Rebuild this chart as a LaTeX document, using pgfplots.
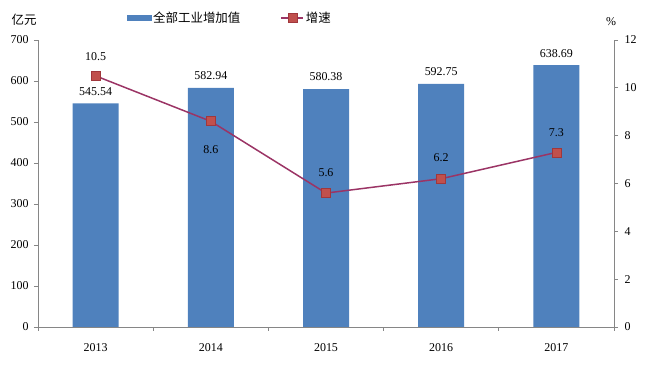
\documentclass[border=0pt]{standalone}
\usepackage{pgfplots}
\pgfplotsset{compat=1.18}
\usepackage{fontspec}
\setmainfont{Liberation Serif}
\newfontfamily\cjk{Noto Sans CJK SC}
\definecolor{barblue}{RGB}{79,129,189}
\definecolor{linec}{RGB}{155,52,101}
\definecolor{markf}{RGB}{192,80,77}
\definecolor{marke}{RGB}{160,55,60}
\definecolor{axgray}{RGB}{134,134,134}
\begin{document}
\begin{tikzpicture}
\useasboundingbox (0,0) rectangle (648bp,375bp);
\pgfplotsset{every axis/.append style={
  font=\fontsize{12}{14}\selectfont,
  /pgf/number format/assume math mode=true,
  scale only axis, width=576bp, height=287bp,
  at={(38bp,48bp)}, anchor=south west,
  xmin=-0.5, xmax=4.5,
  axis line style={axgray, line width=0.8pt},
  tick style={axgray, line width=0.8pt},
  tick align=outside,
  major tick length=4bp,
}}
\begin{axis}[
  ymin=0, ymax=700, ytick={0,100,...,700},
  axis y line*=left, axis x line*=bottom,
  xtick={-0.5,0.5,1.5,2.5,3.5,4.5}, xticklabels={},
  extra x ticks={0,1,2,3,4},
  extra x tick labels={2013,2014,2015,2016,2017},
  extra x tick style={major tick length=0pt, xticklabel style={yshift=-13bp}},
  yticklabel style={xshift=-2bp},
]
\addplot[ybar, bar width=46bp, fill=barblue, draw=none,
  nodes near coords, point meta=explicit symbolic,
  every node near coord/.append style={anchor=center, yshift=12bp, font=\fontsize{12}{14}\selectfont}]
  table[meta=l] {
x y l
0 545.54 545.54
1 582.94 582.94
2 580.38 580.38
3 592.75 592.75
4 638.69 638.69
};
\end{axis}
\begin{axis}[
  ymin=0, ymax=12, ytick={0,2,...,12},
  axis y line*=right, axis x line=none,
  yticklabel style={xshift=3bp},
  legend style={draw=none, fill=none, at={(0.333,1.077)}, anchor=center,
    legend columns=2, font=\cjk\fontsize{12.5}{14}\selectfont,
    /tikz/every even column/.append style={column sep=38bp}},
  legend image code/.code={},
]
\addlegendimage{legend image code/.code={\fill[barblue] (0bp,-2.5bp) rectangle (24bp,2.5bp);}}
\addlegendentry{全部工业增加值}
\addlegendimage{legend image code/.code={\draw[linec, line width=1.5pt] (0bp,0) -- (22bp,0); \draw[marke, fill=markf] (7bp,-4.5bp) rectangle (16bp,4.5bp);}}
\addlegendentry{增速}
\addplot[linec, line width=1.5pt, mark=square*, mark size=4.5bp,
  mark options={fill=markf, draw=marke, line width=0.8pt},
  nodes near coords, point meta=explicit symbolic,
  visualization depends on={value \thisrow{s} \as \lshift},
  every node near coord/.append style={anchor=center, yshift=\lshift bp, text=black, font=\fontsize{12}{14}\selectfont}]
  table[meta=l] {
x y l s
0 10.5 10.5 19
1 8.6 8.6 -28
2 5.6 5.6 20
3 6.2 6.2 21
4 7.3 7.3 20
};
\end{axis}
\node[font=\cjk\fontsize{12.5}{14}\selectfont] at (24bp,355bp) {亿元};
\node[font=\fontsize{12}{14}\selectfont] at (611bp,353bp) {\%};
\end{tikzpicture}
\end{document}
